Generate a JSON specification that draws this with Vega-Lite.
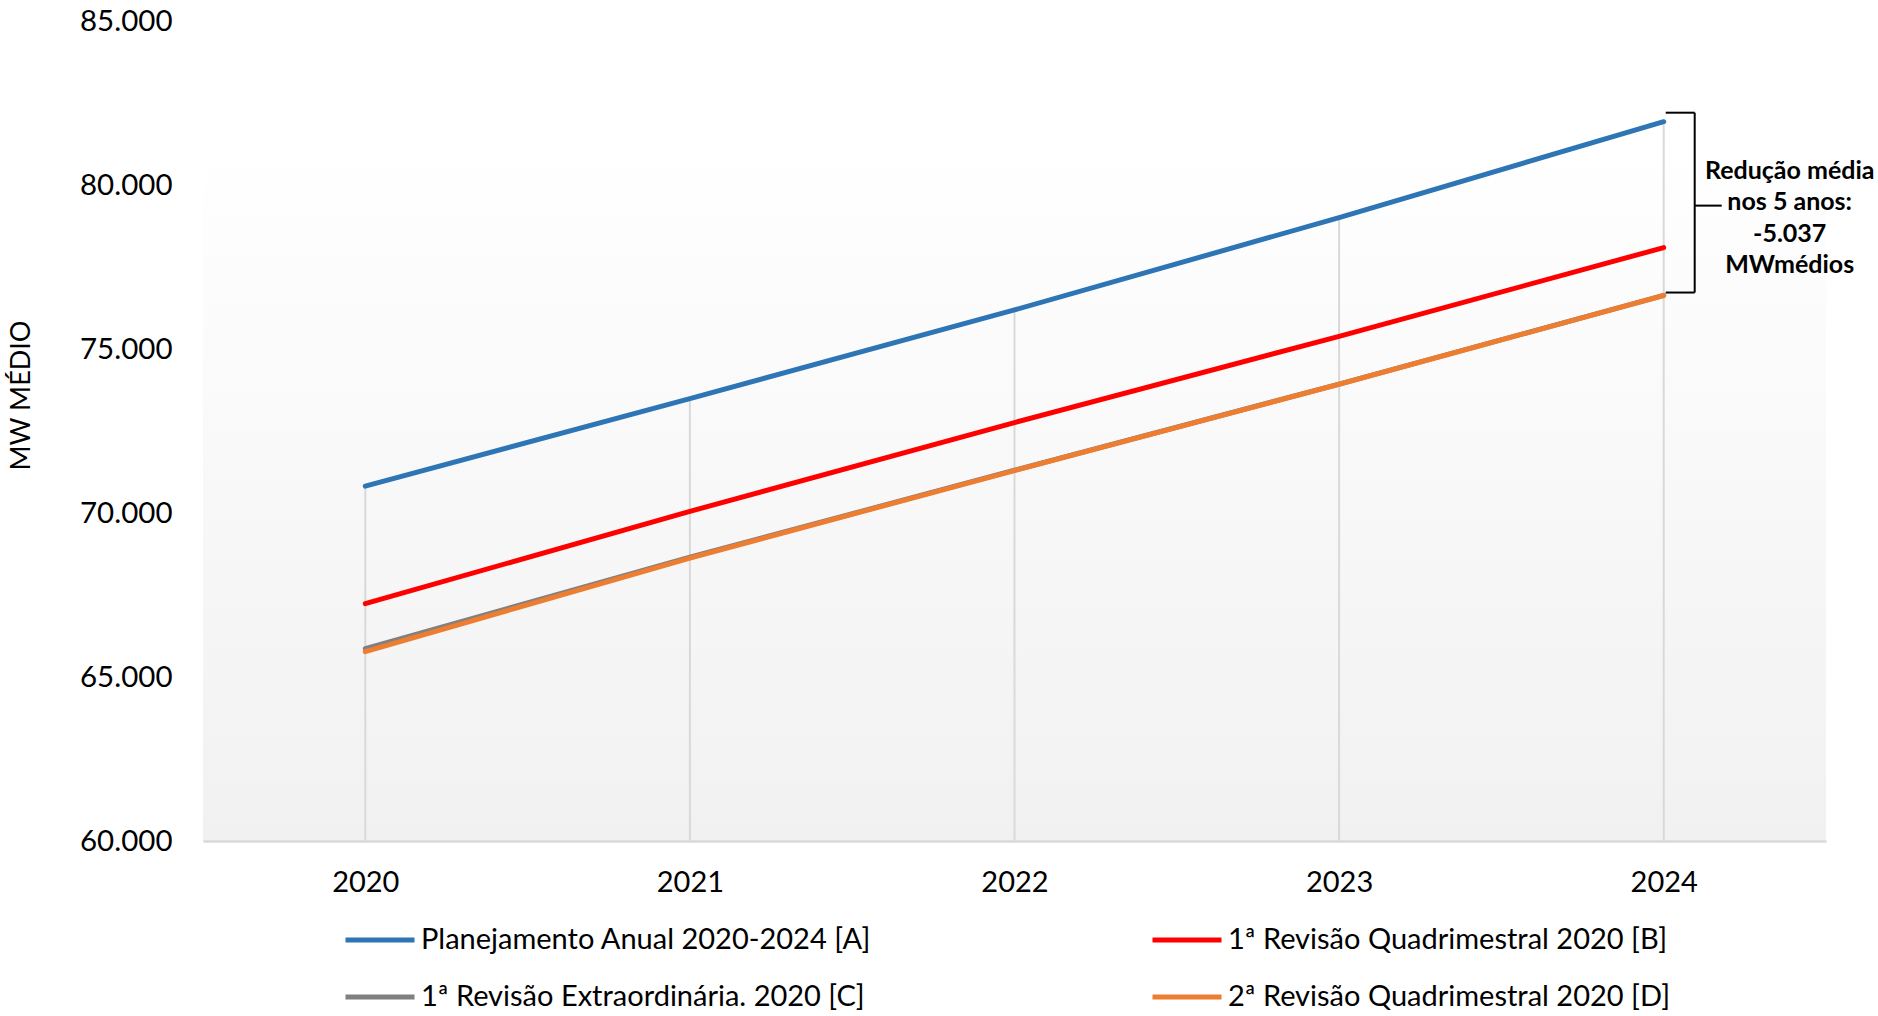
{
  "$schema": "https://vega.github.io/schema/vega-lite/v6.json",
  "width": 1623,
  "height": 820,
  "autosize": {"type": "none"},
  "padding": {"left": 203, "top": 21, "right": 52, "bottom": 175},
  "background": "white",
  "config": {
    "font": "Lato",
    "view": {
      "stroke": null,
      "fill": {"gradient": "linear", "x1": 0, "y1": 0, "x2": 0, "y2": 1,
        "stops": [{"offset": 0, "color": "#ffffff"}, {"offset": 0.15, "color": "#ffffff"}, {"offset": 1, "color": "#f1f1f1"}]}
    }
  },
  "data": {
    "values": [
      {"year": 2020, "series": "Planejamento Anual 2020-2024 [A]", "value": 70819},
      {"year": 2021, "series": "Planejamento Anual 2020-2024 [A]", "value": 73487},
      {"year": 2022, "series": "Planejamento Anual 2020-2024 [A]", "value": 76192},
      {"year": 2023, "series": "Planejamento Anual 2020-2024 [A]", "value": 79006},
      {"year": 2024, "series": "Planejamento Anual 2020-2024 [A]", "value": 81930},
      {"year": 2020, "series": "1ª Revisão Quadrimestral 2020 [B]", "value": 67237},
      {"year": 2021, "series": "1ª Revisão Quadrimestral 2020 [B]", "value": 70051},
      {"year": 2022, "series": "1ª Revisão Quadrimestral 2020 [B]", "value": 72756},
      {"year": 2023, "series": "1ª Revisão Quadrimestral 2020 [B]", "value": 75387},
      {"year": 2024, "series": "1ª Revisão Quadrimestral 2020 [B]", "value": 78092},
      {"year": 2020, "series": "1ª Revisão Extraordinária. 2020 [C]", "value": 65865},
      {"year": 2021, "series": "1ª Revisão Extraordinária. 2020 [C]", "value": 68650},
      {"year": 2022, "series": "1ª Revisão Extraordinária. 2020 [C]", "value": 71305},
      {"year": 2023, "series": "1ª Revisão Extraordinária. 2020 [C]", "value": 73930},
      {"year": 2024, "series": "1ª Revisão Extraordinária. 2020 [C]", "value": 76635},
      {"year": 2020, "series": "2ª Revisão Quadrimestral 2020 [D]", "value": 65775},
      {"year": 2021, "series": "2ª Revisão Quadrimestral 2020 [D]", "value": 68626},
      {"year": 2022, "series": "2ª Revisão Quadrimestral 2020 [D]", "value": 71294},
      {"year": 2023, "series": "2ª Revisão Quadrimestral 2020 [D]", "value": 73925},
      {"year": 2024, "series": "2ª Revisão Quadrimestral 2020 [D]", "value": 76630}
    ]
  },
  "layer": [
    {
      "mark": {"type": "rule", "color": "#d9d9d9", "strokeWidth": 2},
      "encoding": {
        "x": {"field": "year", "type": "quantitative", "title": null},
        "y": {"field": "value", "type": "quantitative", "aggregate": "max", "title": "MW MÉDIO"},
        "y2": {"datum": 60000}
      }
    },
    {
      "mark": {"type": "line", "strokeWidth": 5, "strokeCap": "round", "strokeJoin": "round"},
      "encoding": {
        "x": {
          "field": "year", "type": "quantitative", "title": null,
          "scale": {"domain": [2019.5, 2024.5], "nice": false, "zero": false},
          "axis": {"values": [2020, 2021, 2022, 2023, 2024], "format": "d", "grid": false, "ticks": false,
            "domainColor": "#d9d9d9", "domainWidth": 2.5, "labelFont": "Lato", "labelFontSize": 29,
            "labelColor": "#000000", "labelPadding": 27}
        },
        "y": {
          "field": "value", "type": "quantitative", "title": "MW MÉDIO",
          "scale": {"domain": [60000, 85000], "nice": false, "zero": false},
          "axis": {"values": [60000, 65000, 70000, 75000, 80000, 85000],
            "labelExpr": "replace(format(datum.value, ','), ',', '.')",
            "grid": false, "ticks": false, "domain": false, "labelFont": "Lato", "labelFontSize": 29.5,
            "labelColor": "#000000", "labelPadding": 31,
            "titleFont": "Lato", "titleFontSize": 27, "titleFontWeight": "normal", "titleColor": "#000000",
            "titleAngle": -90, "titleX": -182, "titleY": 374, "titleAlign": "center", "titleBaseline": "middle"}
        },
        "color": {
          "field": "series", "type": "nominal",
          "scale": {
            "domain": ["Planejamento Anual 2020-2024 [A]", "1ª Revisão Quadrimestral 2020 [B]", "1ª Revisão Extraordinária. 2020 [C]", "2ª Revisão Quadrimestral 2020 [D]"],
            "range": ["#2E75B6", "#FF0000", "#808080", "#ED7D31"]
          },
          "legend": {
            "orient": "none", "legendX": 140, "legendY": 882, "direction": "horizontal", "columns": 2,
            "title": null, "symbolType": "stroke", "symbolSize": 4761, "symbolStrokeWidth": 5,
            "labelFont": "Lato", "labelFontSize": 29, "labelColor": "#000000", "labelOffset": 4,
            "columnPadding": 270, "rowPadding": 5, "labelLimit": 0
          }
        }
      }
    },
    {
      "transform": [
        {"filter": {"field": "year", "equal": 2024}},
        {"filter": {"field": "series", "oneOf": ["Planejamento Anual 2020-2024 [A]", "2ª Revisão Quadrimestral 2020 [D]"]}}
      ],
      "layer": [
        {
          "mark": {"type": "rule", "color": "#000000", "strokeWidth": 2, "xOffset": 31, "yOffset": -9, "y2Offset": -3},
          "encoding": {
            "x": {"field": "year", "type": "quantitative", "title": null},
            "y": {"field": "value", "type": "quantitative", "aggregate": "max", "title": "MW MÉDIO"},
            "y2": {"field": "value", "aggregate": "min"}
          }
        },
        {
          "mark": {"type": "rule", "color": "#000000", "strokeWidth": 2, "xOffset": 2, "x2Offset": 31, "yOffset": -9},
          "encoding": {
            "x": {"field": "year", "type": "quantitative", "title": null},
            "x2": {"field": "year"},
            "y": {"field": "value", "type": "quantitative", "aggregate": "max", "title": "MW MÉDIO"}
          }
        },
        {
          "mark": {"type": "rule", "color": "#000000", "strokeWidth": 2, "xOffset": 2, "x2Offset": 31, "yOffset": -3},
          "encoding": {
            "x": {"field": "year", "type": "quantitative", "title": null},
            "x2": {"field": "year"},
            "y": {"field": "value", "type": "quantitative", "aggregate": "min", "title": "MW MÉDIO"}
          }
        },
        {
          "mark": {"type": "rule", "color": "#000000", "strokeWidth": 2, "xOffset": 31, "x2Offset": 58, "yOffset": -3},
          "encoding": {
            "x": {"field": "year", "type": "quantitative", "title": null},
            "x2": {"field": "year"},
            "y": {"field": "value", "type": "quantitative", "aggregate": "mean", "title": "MW MÉDIO"}
          }
        },
        {
          "mark": {"type": "text", "text": ["Redução média", "nos 5 anos:", "-5.037", "MWmédios"],
            "font": "Lato", "fontWeight": "bold", "fontSize": 25, "lineHeight": 31.5,
            "align": "center", "baseline": "middle", "xOffset": 126, "yOffset": -38, "color": "#000000"},
          "encoding": {
            "x": {"field": "year", "type": "quantitative", "title": null},
            "y": {"field": "value", "type": "quantitative", "aggregate": "mean", "title": "MW MÉDIO"}
          }
        }
      ]
    }
  ]
}
